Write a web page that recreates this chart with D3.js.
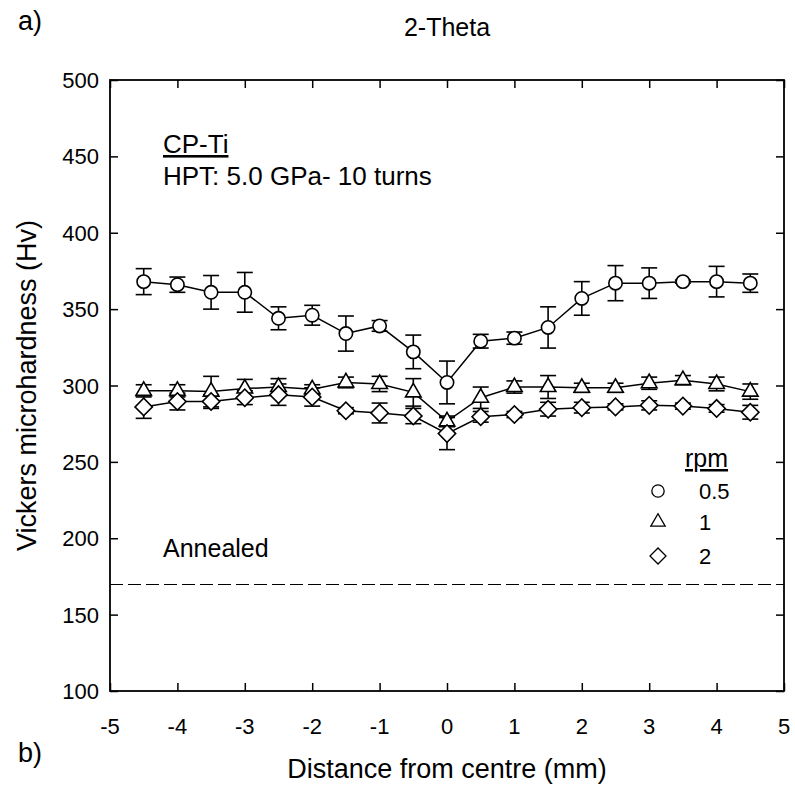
<!DOCTYPE html>
<html>
<head>
<meta charset="utf-8">
<script src="https://cdn.jsdelivr.net/npm/d3@7"></script>
<style>
  body { margin: 0; background: #fff; }
  svg { display: block; font-family: "Liberation Sans", Arial, sans-serif; }
</style>
</head>
<body>
<div id="chart"></div>
<script>
// distance from centre (mm)
const distances = [-4.5, -4, -3.5, -3, -2.5, -2, -1.5, -1, -0.5, 0, 0.5, 1, 1.5, 2, 2.5, 3, 3.5, 4, 4.5];

// 0.5 rpm
const hv05 = [368, 366, 361, 361, 344, 346, 334, 339, 322, 302, 329, 331, 338, 357, 367, 367, 368, 368, 367];
const err05 = [8.5, 5, 11, 13, 7.5, 6.5, 11.5, 3.5, 11, 14, 4.5, 4, 13.5, 11, 11.5, 10, 1, 10, 6];
// 1 rpm
const hv1 = [296.5, 296.5, 296, 298, 299, 297.5, 302, 301, 295.5, 276.5, 292, 299, 299, 298.5, 298.5, 301.5, 303.5, 301, 296];
const err1 = [4, 4, 10, 6, 5.5, 3, 3.5, 5, 9, 3.5, 7, 4, 7.5, 3, 3, 4, 3, 4.5, 5];
// 2 rpm
const hv2 = [286, 289.5, 289.5, 292, 294, 292.5, 283.5, 282, 280, 268.5, 279.5, 281, 284.5, 285.5, 286, 287, 286.5, 285, 282.5];
const err2 = [7.5, 5.5, 4.5, 4.5, 7, 6, 2, 6.5, 5, 10.5, 3.5, 2, 4.5, 3.5, 2, 3, 2, 2.5, 4.5];

const annealed = 170;
const xTicks = [-5, -4, -3, -2, -1, 0, 1, 2, 3, 4, 5];
const yTicks = [100, 150, 200, 250, 300, 350, 400, 450, 500];
const rpmLabels = ['0.5', '1', '2'];

const width = 795, height = 789;
const margin = {left: 110, right: 11, top: 80, bottom: 98};

const svg = d3.select('#chart').append('svg')
    .attr('width', width)
    .attr('height', height);

const x = d3.scaleLinear().domain([-5, 5]).range([margin.left, width - margin.right]);
const y = d3.scaleLinear().domain([100, 500]).range([height - margin.bottom, margin.top]);

const tickLen = 8;

// axes with inward ticks on all four sides
svg.append('g')
    .attr('transform', `translate(0,${y(100)})`)
    .call(d3.axisTop(x).tickValues(xTicks).tickSize(tickLen).tickFormat(''))
    .call(g => g.select('.domain').remove());
svg.append('g')
    .attr('transform', `translate(0,${y(500)})`)
    .call(d3.axisBottom(x).tickValues(xTicks).tickSize(tickLen).tickFormat(''))
    .call(g => g.select('.domain').remove());
svg.append('g')
    .attr('transform', `translate(${x(-5)},0)`)
    .call(d3.axisRight(y).tickValues(yTicks).tickSize(tickLen).tickFormat(''))
    .call(g => g.select('.domain').remove());
svg.append('g')
    .attr('transform', `translate(${x(5)},0)`)
    .call(d3.axisLeft(y).tickValues(yTicks).tickSize(tickLen).tickFormat(''))
    .call(g => g.select('.domain').remove());
svg.selectAll('.tick line').attr('stroke', '#000').attr('stroke-width', 1.5);

svg.append('rect')
    .attr('x', x(-5)).attr('y', y(500))
    .attr('width', x(5) - x(-5)).attr('height', y(100) - y(500))
    .attr('fill', 'none').attr('stroke', '#000').attr('stroke-width', 1.8);

// tick labels
svg.append('g').selectAll('text')
  .data(xTicks).join('text')
    .attr('x', d => x(d))
    .attr('y', y(100) + 43)
    .attr('text-anchor', 'middle')
    .style('font-size', '22px')
    .text(d => d);
svg.append('g').selectAll('text')
  .data(yTicks).join('text')
    .attr('x', x(-5) - 11)
    .attr('y', d => y(d) + 8)
    .attr('text-anchor', 'end')
    .style('font-size', '22px')
    .text(d => d);

// titles
svg.append('text').attr('x', (x(-5) + x(5)) / 2).attr('y', 36)
    .attr('text-anchor', 'middle').style('font-size', '25px').text('2-Theta');
svg.append('text').attr('x', 18).attr('y', 30).style('font-size', '27px').text('a)');
svg.append('text').attr('x', 18).attr('y', 762).style('font-size', '27px').text('b)');
svg.append('text').attr('x', (x(-5) + x(5)) / 2).attr('y', 778)
    .attr('text-anchor', 'middle').style('font-size', '27px').text('Distance from centre (mm)');
svg.append('text')
    .attr('transform', `translate(36,${(y(100) + y(500)) / 2}) rotate(-90)`)
    .attr('text-anchor', 'middle').style('font-size', '27px').text('Vickers microhardness (Hv)');

// annotations
svg.append('text').attr('x', 163).attr('y', 153).style('font-size', '26px')
    .attr('text-decoration', 'underline').text('CP-Ti');
svg.append('text').attr('x', 163).attr('y', 185).style('font-size', '26px')
    .text('HPT: 5.0 GPa- 10 turns');
svg.append('text').attr('x', 163).attr('y', 557).style('font-size', '25px')
    .text('Annealed');

// annealed reference
svg.append('line')
    .attr('x1', x(-5)).attr('x2', x(5))
    .attr('y1', Math.round(y(annealed)) + 0.5).attr('y2', Math.round(y(annealed)) + 0.5)
    .attr('stroke', '#000').attr('stroke-width', 1)
    .attr('stroke-dasharray', '13,5');

const series = [
  {values: hv05, errors: err05, symbol: d3.symbolCircle, size: 140, rot: 0},
  {values: hv1, errors: err1, symbol: d3.symbolTriangle, size: 105, rot: 0},
  {values: hv2, errors: err2, symbol: d3.symbolSquare, size: 150, rot: 45}
];

const line = d3.line().x(d => x(d[0])).y(d => y(d[1]));
const capW = 8;

series.forEach(s => {
  const pts = distances.map((d, i) => [d, s.values[i], s.errors[i]]);
  const g = svg.append('g');
  g.append('path')
      .attr('d', line(pts))
      .attr('fill', 'none').attr('stroke', '#000').attr('stroke-width', 1.5);
  const eb = g.append('g').attr('stroke', '#000').attr('stroke-width', 1.6);
  pts.forEach(p => {
    const top = y(p[1] + p[2]), bot = y(p[1] - p[2]), cx = x(p[0]);
    eb.append('line').attr('x1', cx).attr('x2', cx).attr('y1', top).attr('y2', bot);
    eb.append('line').attr('x1', cx - capW).attr('x2', cx + capW).attr('y1', top).attr('y2', top);
    eb.append('line').attr('x1', cx - capW).attr('x2', cx + capW).attr('y1', bot).attr('y2', bot);
  });
});

series.forEach(s => {
  svg.append('g').selectAll('path')
    .data(distances.map((d, i) => [d, s.values[i]])).join('path')
      .attr('d', d3.symbol().type(s.symbol).size(s.size))
      .attr('transform', d => `translate(${x(d[0])},${y(d[1])}) rotate(${s.rot})`)
      .attr('fill', '#fff').attr('stroke', '#000').attr('stroke-width', 1.6);
});

// legend
const legend = svg.append('g');
legend.append('text').attr('x', 685).attr('y', 467).style('font-size', '25px')
    .attr('text-decoration', 'underline').text('rpm');
const legY = [491, 522, 556];
series.forEach((s, i) => {
  legend.append('path')
      .attr('d', d3.symbol().type(s.symbol).size(s.size * 0.85))
      .attr('transform', `translate(658,${legY[i]}) rotate(${s.rot})`)
      .attr('fill', '#fff').attr('stroke', '#000').attr('stroke-width', 1.3);
  legend.append('text').attr('x', 699).attr('y', legY[i] + 8)
      .style('font-size', '22px').text(rpmLabels[i]);
});
</script>
</body>
</html>
